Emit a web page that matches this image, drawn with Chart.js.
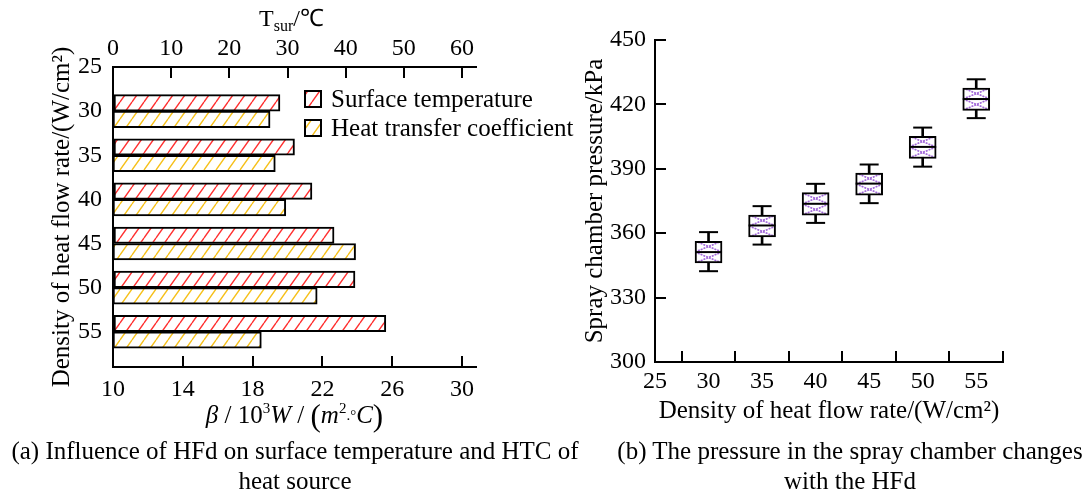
<!DOCTYPE html>
<html>
<head>
<meta charset="utf-8">
<script src="https://cdn.jsdelivr.net/npm/chart.js@4.4.1/dist/chart.umd.min.js"></script>
<style>
  body { margin: 0; background: #fff; width: 1092px; height: 498px; position: relative; overflow: hidden; }
  .box { position: absolute; top: 0; height: 440px; }
  .cap { position: absolute; font-family: 'Liberation Serif', serif; font-size: 25px; line-height: 30px; text-align: center; color: #000; white-space: nowrap; }
</style>
</head>
<body>
<div class="box" style="left:0;width:580px"><canvas id="left"></canvas></div>
<div class="box" style="left:580px;width:512px"><canvas id="right"></canvas></div>
<div class="cap" style="left:0;width:590px;top:436px">(a) Influence of HFd on surface temperature and HTC of<br>heat source</div>
<div class="cap" style="left:600px;width:500px;top:436px">(b) The pressure in the spray chamber changes<br>with the HFd</div>
<script>
// heat flow density categories (W/cm2)
const hfd = [30, 35, 40, 45, 50, 55]
// left panel: surface temperature (top axis, C) and heat transfer coefficient (bottom axis, 10^3 W/(m2 C))
const surfaceTemp = [28.7, 31.2, 34.2, 38.0, 41.6, 46.9]
const htc = [19.0, 19.3, 19.9, 23.9, 21.7, 18.5]
// right panel: spray chamber pressure box plots (kPa)
const whiskerLow = [342.3, 354.7, 364.8, 374.0, 391.0, 413.6]
const q1 = [346.1, 358.3, 368.4, 377.7, 394.8, 417.2]
const median = [351.2, 363.6, 373.7, 383.1, 400.2, 422.5]
const q3 = [356.2, 368.4, 378.9, 388.0, 405.1, 427.6]
const whiskerHigh = [360.5, 372.6, 383.0, 392.0, 409.2, 431.7]
// tick labels
const hfdTicks = [25, 30, 35, 40, 45, 50, 55]
const tempTicks = [0, 10, 20, 30, 40, 50, 60]
const betaTicks = [10, 14, 18, 22, 26, 30]
const pressureTicks = [300, 330, 360, 390, 420, 450]

const serif = "'Liberation Serif', 'Times New Roman', serif"
Chart.defaults.font.family = serif
Chart.defaults.font.size = 24
Chart.defaults.color = '#000'
Chart.defaults.animation = false

function hatch(ctx, color, w, h) {
  const c = document.createElement('canvas')
  c.width = w
  c.height = h
  const g = c.getContext('2d')
  g.fillStyle = '#fff'
  g.fillRect(0, 0, w, h)
  g.strokeStyle = color
  g.lineWidth = 1.4
  g.beginPath()
  g.moveTo(0, h); g.lineTo(w, 0)
  g.moveTo(-w, h); g.lineTo(0, 0)
  g.moveTo(w, h); g.lineTo(2 * w, 0)
  g.stroke()
  return ctx.createPattern(c, 'repeat')
}

function crossHatch(ctx, color, w, h) {
  const c = document.createElement('canvas')
  c.width = Math.max(2, Math.round(w))
  c.height = Math.max(2, Math.round(h))
  w = c.width
  h = c.height
  const g = c.getContext('2d')
  g.fillStyle = '#fff'
  g.fillRect(0, 0, w, h)
  g.strokeStyle = color
  g.lineWidth = 1.6
  g.setLineDash([2, 1])
  g.beginPath()
  g.moveTo(0, 0); g.lineTo(w, h)
  g.moveTo(w, 0); g.lineTo(0, h)
  g.stroke()
  return ctx.createPattern(c, 'repeat')
}

// draws text made of pieces with their own font and baseline shift, centred on cx
function drawPieces(ctx, pieces, cx, baseY) {
  let total = 0
  pieces.forEach((p) => { ctx.font = p.font; p.w = ctx.measureText(p.t).width; total += p.w })
  let x = cx - total / 2
  ctx.textAlign = 'left'
  ctx.textBaseline = 'alphabetic'
  ctx.fillStyle = '#000'
  pieces.forEach((p) => {
    ctx.font = p.font
    ctx.fillText(p.t, x, baseY + (p.dy || 0))
    x += p.w
  })
}

function fixedTicks(values) {
  return (s) => { s.ticks = values.map((v) => ({ value: v })) }
}

function axis(extra) {
  return Object.assign({
    type: 'linear',
    offset: false,
    border: { color: '#000', width: 2 },
    grid: { drawOnChartArea: false, color: '#000', lineWidth: 2, tickLength: -11 },
  }, extra)
}

const leftCtx = document.getElementById('left').getContext('2d')
const redHatch = hatch(leftCtx, '#ff3030', 12, 17)
const yellowHatch = hatch(leftCtx, '#f6c01a', 12, 17)

const leftExtras = {
  id: 'leftExtras',
  afterDraw(chart) {
    const ctx = chart.ctx
    const a = chart.chartArea
    ctx.save()
    chart.data.datasets.forEach((ds, i) => {
      const x = a.left + 192
      const y = a.top + 24 + i * 29
      ctx.fillStyle = ds.backgroundColor
      ctx.fillRect(x, y, 16, 16)
      ctx.strokeStyle = '#000'
      ctx.lineWidth = 2
      ctx.strokeRect(x, y, 16, 16)
      ctx.fillStyle = '#000'
      ctx.font = '25px ' + serif
      ctx.textBaseline = 'middle'
      ctx.textAlign = 'left'
      ctx.fillText(ds.label, x + 26, y + 9)
    })
    const big = '24px ' + serif
    const small = '16px ' + serif
    const cx = (a.left + a.right) / 2
    // top axis title T_sur/℃
    drawPieces(ctx, [
      { t: 'T', font: big },
      { t: 'sur', font: small, dy: 5 },
      { t: '/℃', font: big },
    ], cx - 3, 26)
    // bottom axis title β/10³W/(m²·°C)
    const it = 'italic 25px ' + serif
    const up = '25px ' + serif
    const sup = '15px ' + serif
    const paren = '31px ' + serif
    drawPieces(ctx, [
      { t: 'β', font: it },
      { t: ' / 10', font: up },
      { t: '3', font: sup, dy: -10 },
      { t: 'W', font: it },
      { t: ' / ', font: up },
      { t: '(', font: paren, dy: 3 },
      { t: 'm', font: it },
      { t: '2', font: sup, dy: -10 },
      { t: '.°', font: sup, dy: -3 },
      { t: 'C', font: it },
      { t: ')', font: paren, dy: 3 },
    ], cx, 423)
    ctx.restore()
  },
}

let leftConfig = {
  type: 'bar',
  data: {
    datasets: [
      {
        label: 'Surface temperature',
        data: hfd.map((h, i) => ({ y: h, x: surfaceTemp[i] })),
        xAxisID: 'x2',
        backgroundColor: redHatch,
        borderColor: '#000',
        borderWidth: 2,
        borderSkipped: false,
        barThickness: 16.5,
      },
      {
        label: 'Heat transfer coefficient',
        data: hfd.map((h, i) => ({ y: h, x: [10, htc[i]] })),
        xAxisID: 'x',
        backgroundColor: yellowHatch,
        borderColor: '#000',
        borderWidth: 2,
        borderSkipped: false,
        barThickness: 16.5,
      },
    ],
  },
  options: {
    indexAxis: 'y',
    responsive: true,
    maintainAspectRatio: false,
    layout: { padding: { top: 0, right: 104, left: 0, bottom: 0 } },
    plugins: { legend: { display: false }, tooltip: { enabled: false } },
    scales: {
      y: axis({
        position: 'left',
        reverse: true,
        min: 25,
        max: 59,
        grid: { display: false, drawTicks: false, tickLength: 0 },
        ticks: { padding: 11 },
        afterBuildTicks: fixedTicks(hfdTicks),
        title: { display: true, text: 'Density of heat flow rate/(W/cm²)', font: { size: 25 }, padding: { top: 47, bottom: 0 } },
        afterFit: (s) => { s.width = 113 },
      }),
      x: axis({
        position: 'bottom',
        min: 10,
        max: 30.8,
        ticks: { padding: 19 },
        afterBuildTicks: fixedTicks(betaTicks),
        afterFit: (s) => { s.height = 73 },
      }),
      x2: axis({
        position: 'top',
        min: 0,
        max: 62.4,
        ticks: { padding: 15 },
        afterBuildTicks: fixedTicks(tempTicks),
        afterFit: (s) => { s.height = 67 },
      }),
    },
  },
  plugins: [leftExtras],
}
new Chart(leftCtx, leftConfig)

const rightCtx = document.getElementById('right').getContext('2d')

// cross hatch lined up with each box: one X in each half of the box
function boxFill(c) {
  const chart = c.chart
  const i = c.dataIndex
  const xs = chart.scales.x
  const ys = chart.scales.y
  if (!xs || !ys || i === undefined) return '#fff'
  const top = ys.getPixelForValue(q3[i])
  const bottom = ys.getPixelForValue(q1[i])
  const left = xs.getPixelForValue(hfd[i]) - 13.5
  if (!(bottom - top > 4) || !isFinite(left)) return '#fff'
  const p = crossHatch(rightCtx, '#a066d8', 27, (bottom - top) / 2)
  p.setTransform(new DOMMatrix().translate(Math.round(left), Math.round(top)))
  return p
}

let rightConfig = {
  type: 'bar',
  data: {
    datasets: [
      {
        type: 'line',
        label: 'median',
        data: hfd.map((h, i) => ({ x: h, y: median[i] })),
        showLine: false,
        pointStyle: 'line',
        pointRadius: 13.5,
        borderColor: '#000',
        pointBorderWidth: 2,
        order: 1,
      },
      {
        type: 'line',
        label: 'caps',
        data: hfd.map((h, i) => ({ x: h, y: whiskerLow[i] })).concat(hfd.map((h, i) => ({ x: h, y: whiskerHigh[i] }))),
        showLine: false,
        pointStyle: 'line',
        pointRadius: 9.5,
        borderColor: '#000',
        pointBorderWidth: 2,
        order: 1,
      },
      {
        label: 'box',
        data: hfd.map((h, i) => ({ x: h, y: [q1[i], q3[i]] })),
        backgroundColor: boxFill,
        borderColor: '#000',
        borderWidth: 2,
        borderSkipped: false,
        barThickness: 27,
        grouped: false,
        order: 2,
      },
      {
        label: 'whisker',
        data: hfd.map((h, i) => ({ x: h, y: [whiskerLow[i], whiskerHigh[i]] })),
        backgroundColor: '#000',
        barThickness: 2,
        grouped: false,
        order: 3,
      },
    ],
  },
  options: {
    responsive: true,
    maintainAspectRatio: false,
    layout: { padding: { top: 40, right: 89, left: 0, bottom: 0 } },
    plugins: { legend: { display: false }, tooltip: { enabled: false } },
    scales: {
      x: axis({
        position: 'bottom',
        min: 25,
        max: 57.5,
        ticks: { padding: 16 },
        afterBuildTicks: fixedTicks(hfdTicks),
        title: { display: true, text: 'Density of heat flow rate/(W/cm²)', font: { size: 25 }, padding: { top: 0, bottom: 14 } },
        afterFit: (s) => { s.height = 78 },
      }),
      y: axis({
        position: 'left',
        min: 300,
        max: 450,
        ticks: { padding: 20 },
        afterBuildTicks: fixedTicks(pressureTicks),
        title: { display: true, text: 'Spray chamber pressure/kPa', font: { size: 25 }, padding: { top: 0, bottom: 0 } },
        afterFit: (s) => { s.width = 75 },
      }),
    },
  },
}
new Chart(rightCtx, rightConfig)
</script>
</body>
</html>
